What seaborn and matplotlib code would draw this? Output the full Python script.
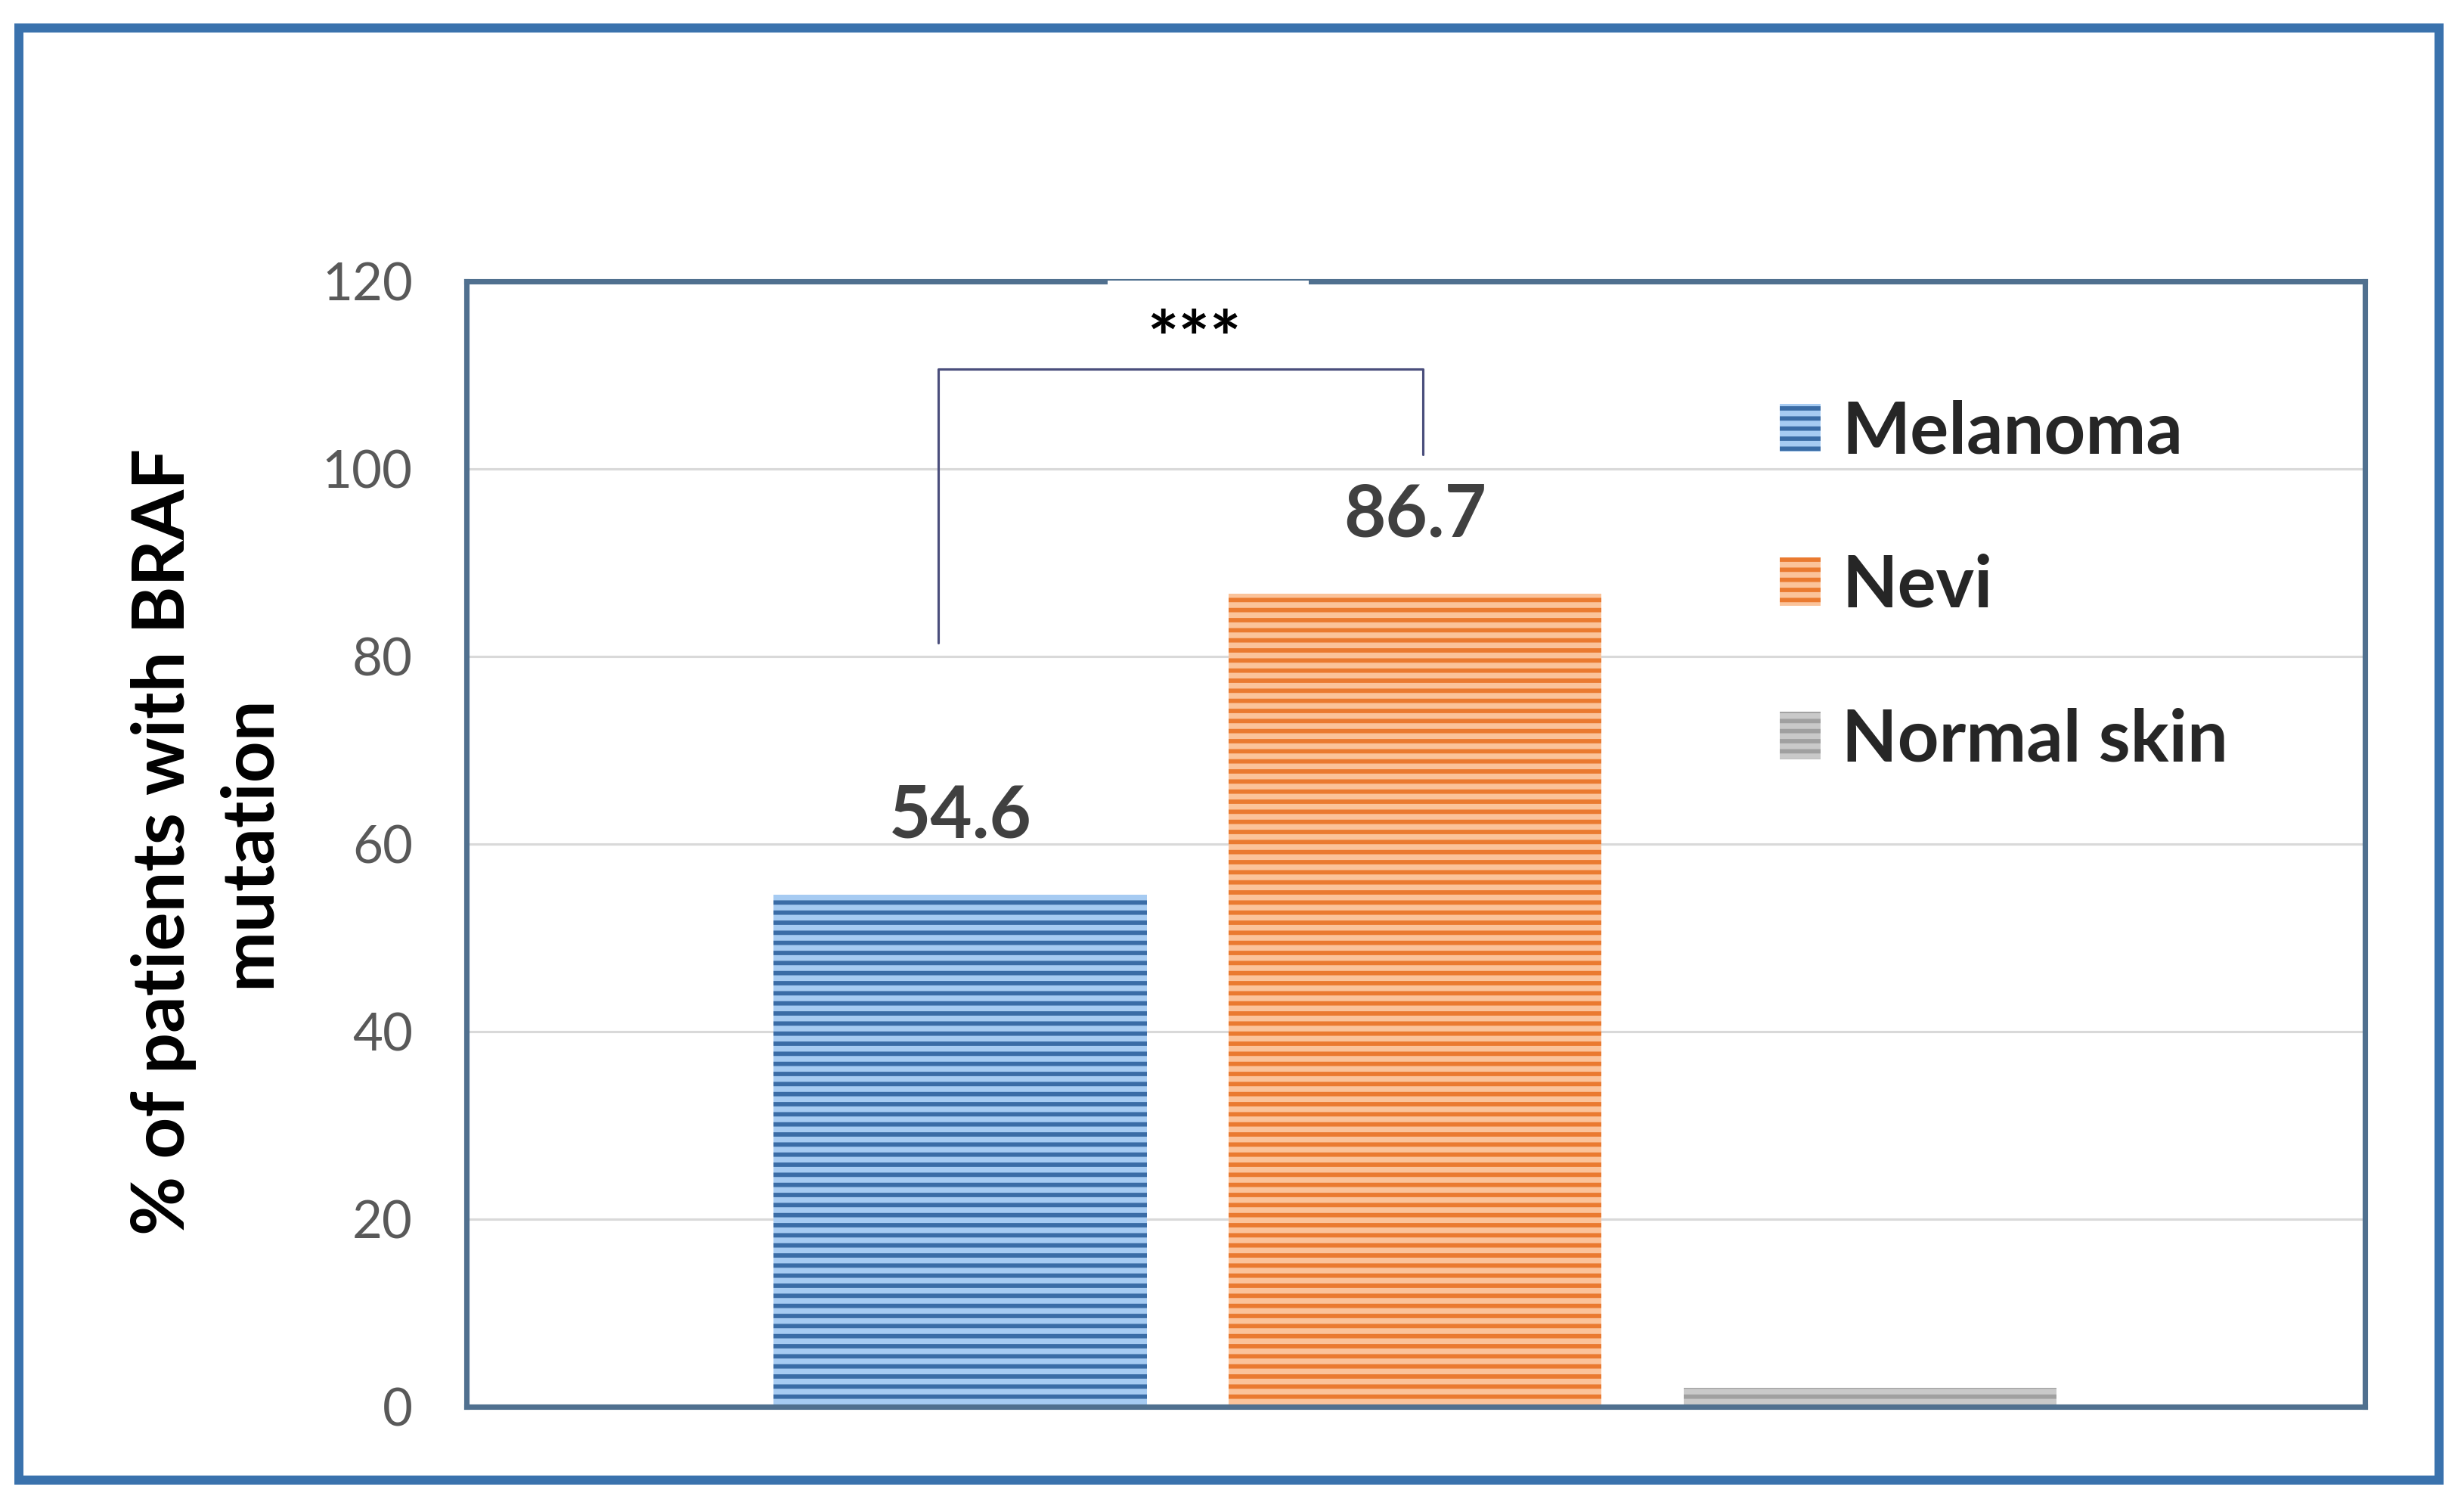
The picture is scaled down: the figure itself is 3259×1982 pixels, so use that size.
import matplotlib
matplotlib.use("Agg")
import matplotlib.pyplot as plt
from matplotlib.patches import Patch, Rectangle
import seaborn as sns

# data
groups = ["Melanoma", "Nevi", "Normal skin"]
pct_braf = [54.6, 86.7, 2.0]
bar_labels = ["54.6", "86.7", ""]
yticks = [0, 20, 40, 60, 80, 100, 120]
signif = "***"

face_cols = ["#a6cbf2", "#fbc39a", "#c9c9c9"]
stripe_cols = ["#3a6ca6", "#ea7a30", "#a0a0a0"]

sns.set_style("white")
plt.rcParams["font.family"] = ["Lato", "DejaVu Sans"]
plt.rcParams["hatch.linewidth"] = 2.6

DPI = 160
fig = plt.figure(figsize=(3259 / DPI, 1982 / DPI), dpi=DPI)
fig.patch.set_facecolor("white")

# outer blue frame
fig.patches.append(Rectangle((0.0077, 0.0126), 0.9822, 0.9687, transform=fig.transFigure,
                             fill=False, edgecolor="#3a72ad", linewidth=5.4))

ax = fig.add_axes([0.1893, 0.0616, 0.7705, 0.7508])

sns.barplot(x=groups, y=pct_braf, hue=groups, palette=face_cols, width=0.82,
            saturation=1, legend=False, ax=ax)

for p, sc in zip(ax.patches, stripe_cols):
    p.set_edgecolor(sc)
    p.set_linewidth(0)
    p.set_hatch("--")

ax.set_xlim(-1.085, 3.088)
ax.set_ylim(0, 120)
ax.set_yticks(yticks)
ax.yaxis.grid(True, color="#d9d9d9", linewidth=1.4)
ax.set_axisbelow(True)
ax.tick_params(axis="x", bottom=False, labelbottom=False)
ax.tick_params(axis="y", length=0, pad=32, labelsize=31, labelcolor="#595959")
ax.set_xlabel("")
for s in ax.spines.values():
    s.set_visible(True)
    s.set_color("#50708f")
    s.set_linewidth(3.2)

ax.set_ylabel("% of patients with BRAF\nmutation", fontsize=43, fontweight="bold",
              color="black", rotation=90, ha="center", va="center", linespacing=1.35)
ax.yaxis.set_label_coords(-0.137, 0.502)

# value labels above bars
for i, (v, lab) in enumerate(zip(pct_braf, bar_labels)):
    if lab:
        ax.text(i, v + 8.3, lab, ha="center", va="center", fontsize=43,
                fontweight="bold", color="#404040")

# significance bracket between melanoma and nevi
ax.plot([-0.048, -0.048, 1.017, 1.017], [81.4, 110.6, 110.6, 101.5],
        color="#4a4e7c", linewidth=1.4, clip_on=False, zorder=4)
ax.add_patch(Rectangle((0.325, 112), 0.442, 8.1, facecolor="white", edgecolor="none",
                       clip_on=False, zorder=3))
ax.text(0.515, 113.4, signif, ha="center", va="center", fontsize=44,
        fontweight="bold", color="black", zorder=5)

handles = [Patch(facecolor=fc, edgecolor=sc, linewidth=0, hatch="--")
           for fc, sc in zip(face_cols, stripe_cols)]
ax.legend(handles, groups, loc="center left", bbox_to_anchor=(0.6918, 0.729),
          frameon=False, borderpad=0, borderaxespad=0, handlelength=0.56,
          handleheight=0.65, handletextpad=0.3, labelspacing=1.22,
          prop={"size": 43, "weight": "bold"})

fig.savefig("out.png", dpi=DPI, facecolor="white")
